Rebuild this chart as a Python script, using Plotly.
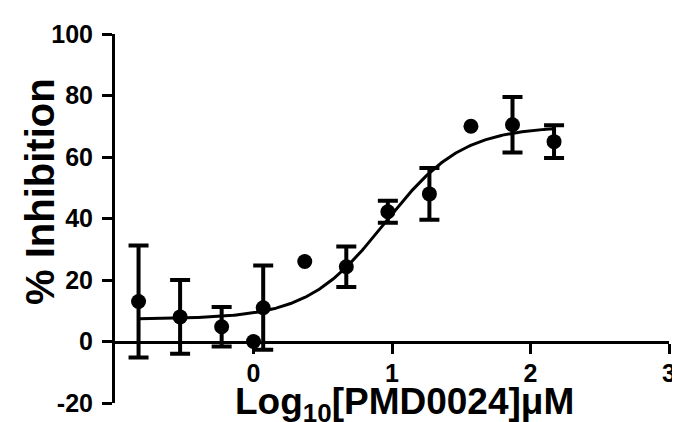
import numpy as np
import plotly.graph_objects as go

# Data
log_conc = [-0.83, -0.53, -0.23, 0.0, 0.07, 0.37, 0.67, 0.97, 1.27, 1.57, 1.87, 2.17]
inhibition = [13.0, 8.0, 4.8, 0.0, 11.0, 26.0, 24.3, 42.2, 48.0, 70.0, 70.5, 65.0]
sd = [18.2, 12.0, 6.4, None, 13.7, None, 6.6, 3.6, 8.4, None, 9.0, 5.3]

# Fitted four-parameter logistic
fit_bottom = 7.3
fit_top = 70.0
fit_logic50 = 0.95
fit_hill = 1.55
curve_x_start = -0.83
curve_x_end = 2.17

x_ticks = [0, 1, 2, 3]
y_ticks = [-20, 0, 20, 40, 60, 80, 100]
y_tick_labels = ["-20", "0", "20", "40", "60", "80", "100"]

cx = np.linspace(curve_x_start, curve_x_end, 300)
cy = fit_bottom + (fit_top - fit_bottom) / (1 + 10 ** ((fit_logic50 - cx) * fit_hill))

with_err = [i for i, s in enumerate(sd) if s is not None]
no_err = [i for i, s in enumerate(sd) if s is None]

FONT = "Liberation Sans, Arial, sans-serif"

fig = go.Figure()
fig.add_trace(go.Scatter(
    x=cx, y=cy, mode="lines",
    line=dict(color="black", width=3),
    hoverinfo="skip", showlegend=False,
))
fig.add_trace(go.Scatter(
    x=[log_conc[i] for i in with_err],
    y=[inhibition[i] for i in with_err],
    mode="markers",
    marker=dict(color="black", size=15),
    error_y=dict(type="data", array=[sd[i] for i in with_err], visible=True,
                 color="black", thickness=4, width=10),
    showlegend=False,
))
fig.add_trace(go.Scatter(
    x=[log_conc[i] for i in no_err],
    y=[inhibition[i] for i in no_err],
    mode="markers",
    marker=dict(color="black", size=15),
    showlegend=False,
))

fig.update_layout(
    width=680, height=422,
    margin=dict(l=107, r=13, t=24, b=27),
    paper_bgcolor="white", plot_bgcolor="white",
    font=dict(family=FONT, color="black"),
    xaxis=dict(
        range=[-1, 3], tickvals=x_ticks,
        anchor="free", position=1/6,
        showline=True, linecolor="black", linewidth=3,
        ticks="outside", ticklen=10, tickwidth=3, tickcolor="black",
        ticklabelstandoff=-2, ticklabeloverflow="allow",
        showgrid=False, zeroline=False,
        tickfont=dict(family=FONT, size=25, weight="bold"),
    ),
    yaxis=dict(
        range=[-20, 100], tickvals=y_ticks, ticktext=y_tick_labels,
        showline=True, linecolor="black", linewidth=3,
        ticks="outside", ticklen=10, tickwidth=3, tickcolor="black",
        ticklabelstandoff=4,
        showgrid=False, zeroline=False,
        tickfont=dict(family=FONT, size=25, weight="bold"),
    ),
    annotations=[
        dict(text="Log<sub>10</sub>[PMD0024]μM", xref="paper", yref="paper",
             x=(400 - 107) / 560, y=(395 - 396) / 371,
             xanchor="center", yanchor="middle", showarrow=False,
             font=dict(family=FONT, size=37, weight="bold", color="black")),
        dict(text="% Inhibition", xref="paper", yref="paper",
             x=(31 - 107) / 560, y=(395 - 182) / 371, textangle=-90,
             xanchor="center", yanchor="middle", showarrow=False,
             font=dict(family=FONT, size=40, weight="bold", color="black")),
    ],
)

fig.write_html("out.html")
